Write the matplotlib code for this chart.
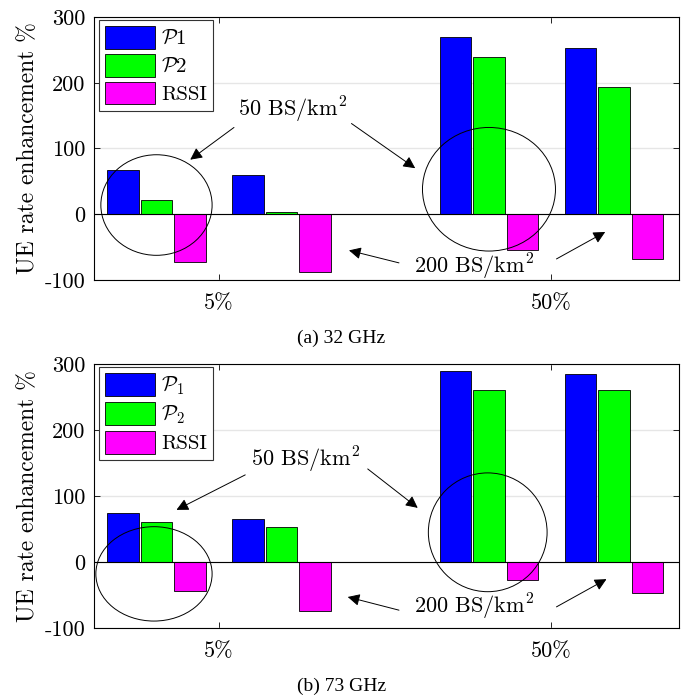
import numpy as np
import matplotlib.pyplot as plt
from matplotlib.patches import Ellipse

plt.rcParams['font.family'] = ['cmr10', 'DejaVu Serif']
plt.rcParams['mathtext.fontset'] = 'cm'
plt.rcParams['axes.formatter.use_mathtext'] = True
plt.rcParams['axes.unicode_minus'] = False

# groups: (5%, 50 BS), (5%, 200 BS), (50%, 50 BS), (50%, 200 BS)
group_x = np.array([0.0, 1.0, 2.66, 3.66])
tick_labels = ['5%', '50%']
tick_x = [0.5, 3.16]
ytick_vals = [-100, 0, 100, 200, 300]

p1_32 = [68, 59, 270, 253]
p2_32 = [21, 4, 239, 194]
rssi_32 = [-73, -88, -55, -68]

p1_73 = [74, 65, 290, 285]
p2_73 = [61, 53, 261, 261]
rssi_73 = [-44, -74, -28, -47]

colors = ['#0000ff', '#00ff00', '#ff00ff']
width = 0.255
offsets = [-0.268, 0.0, 0.268]

fig = plt.figure(figsize=(6.83, 6.98), dpi=100)
ax1 = fig.add_axes([0.1376, 0.5989, 0.8565, 0.3767])
ax2 = fig.add_axes([0.1376, 0.1003, 0.8565, 0.3782])


def draw_panel(ax, series, names):
    for vals, off, col, name in zip(series, offsets, colors, names):
        ax.bar(group_x + off, vals, width, color=col, edgecolor='k',
               linewidth=0.6, label=name, zorder=3)
    ax.axhline(0, color='k', linewidth=0.8, zorder=4)
    ax.set_xlim(-0.5, 4.18)
    ax.set_ylim(-100, 300)
    ax.set_yticks(ytick_vals)
    ax.set_yticklabels([str(v) for v in ytick_vals])
    ax.set_xticks(tick_x)
    ax.set_xticklabels(tick_labels)
    ax.yaxis.grid(True, color='#e6e6e6', linewidth=1.0, zorder=0)
    ax.tick_params(direction='in', top=True, right=True, labelsize=16,
                   length=4, width=0.6)
    ax.tick_params(axis='x', pad=10)
    ax.tick_params(axis='y', pad=6)
    for s in ax.spines.values():
        s.set_linewidth(0.8)
    ax.set_ylabel('UE rate enhancement %', fontsize=17, labelpad=4)
    leg = ax.legend(loc='upper left', fontsize=15, handlelength=2.4,
                    handleheight=1.3, borderpad=0.3, labelspacing=0.25,
                    handletextpad=0.3, fancybox=False, edgecolor='#333333',
                    framealpha=1, borderaxespad=0,
                    bbox_to_anchor=(0.008, 0.99))
    leg.get_frame().set_linewidth(0.8)


def annotate_panel(ax, t50, arrows50, ells, t200, arrows200):
    arrow = dict(arrowstyle='-|>', color='k', linewidth=0.7, mutation_scale=18,
                 shrinkA=0, shrinkB=0)
    ax.text(t50[0], t50[1], r'50 BS/km$^2$', fontsize=16, ha='center',
            va='center', zorder=6)
    for (xs, ys), (xe, ye) in arrows50:
        ax.annotate('', xy=(xe, ye), xytext=(xs, ys), arrowprops=arrow, zorder=6)
    for (cx, cy, w, h) in ells:
        ax.add_patch(Ellipse((cx, cy), w, h, fill=False, edgecolor='k',
                             linewidth=0.7, zorder=6))
    ax.text(t200[0], t200[1], r'200 BS/km$^2$', fontsize=16, ha='center',
            va='center', zorder=6)
    for (xs, ys), (xe, ye) in arrows200:
        ax.annotate('', xy=(xe, ye), xytext=(xs, ys), arrowprops=arrow, zorder=6)


draw_panel(ax1, [p1_32, p2_32, rssi_32],
           [r'$\mathcal{P}1$', r'$\mathcal{P}2$', 'RSSI'])
annotate_panel(ax1, (1.09, 158),
               [((0.62, 132), (0.27, 83)), ((1.56, 138), (2.07, 70))],
               [(0.0, 14, 0.89, 153), (2.66, 38, 1.064, 188)],
               (2.54, -80),
               [((1.94, -74), (1.54, -55)), ((3.2, -68), (3.59, -27))])

draw_panel(ax2, [p1_73, p2_73, rssi_73],
           [r'$\mathcal{P}_1$', r'$\mathcal{P}_2$', 'RSSI'])
annotate_panel(ax2, (1.19, 155),
               [((0.71, 132), (0.16, 79)), ((1.69, 141), (2.09, 82))],
               [(-0.02, -18, 0.93, 143), (2.65, 45, 0.95, 180)],
               (2.54, -68),
               [((1.94, -73), (1.53, -53)), ((3.2, -68), (3.6, -26))])

fig.text(0.5, 1 - 338 / 698, '(a) 32 GHz', fontsize=14, ha='center',
         va='center', family='Liberation Serif')
fig.text(0.5, 1 - 686 / 698, '(b) 73 GHz', fontsize=14, ha='center',
         va='center', family='Liberation Serif')

fig.savefig('out.png', dpi=100)
